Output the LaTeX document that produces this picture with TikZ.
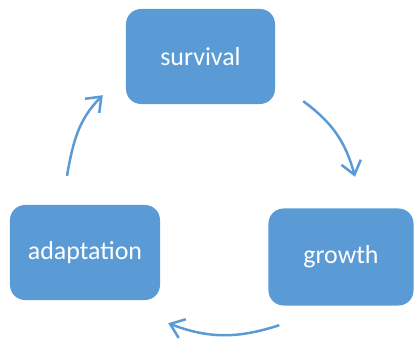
\documentclass[tikz,border=0pt]{standalone}
\usepackage{fontspec}
\setmainfont{Carlito}
\usetikzlibrary{arrows.meta,positioning,calc}
\definecolor{cycblue}{HTML}{5B9BD5}

\begin{document}
\begin{tikzpicture}[
  x=1bp, y=1bp,
  stage/.style={fill=cycblue, rounded corners=15bp, align=center,
                text=white, font=\fontsize{26}{30}\selectfont,
                minimum width=149bp, minimum height=95bp, inner sep=0pt},
  cycarrow/.style={draw=cycblue, line width=2.5bp,
                   -{Straight Barb[length=13bp,width=20bp,line width=2.5bp]}}
]
\useasboundingbox (0,0) rectangle (414,341);

% Cycle stages
\node[stage] (survival) at (200.5,284.5) {survival};
\node[stage, minimum width=145bp, minimum height=97bp] (growth) at (341,84) {growth};
\node[stage, minimum width=150bp] (adaptation) at (85,88.5) {adaptation};

% Free ends of the curved arrows
\coordinate (sg-from) at ($(survival.south east)+(28,3)$);
\coordinate (sg-to)   at ($(growth.north)+(14,31.5)$);
\coordinate (ga-from) at ($(growth.south west)+(11,-19.5)$);
\coordinate (ga-to)   at ($(adaptation.south east)+(8,-23)$);
\coordinate (as-from) at ($(adaptation.north)+(-18,29)$);
\coordinate (as-to)   at ($(survival.south west)+(-23,9)$);

\draw[cycarrow] (sg-from) to[out=-36, in=105] (sg-to);
\draw[cycarrow] (ga-from) to[out=198, in=-21] (ga-to);
\draw[cycarrow] (as-from) to[out=80, in=225] (as-to);

\end{tikzpicture}
\end{document}
